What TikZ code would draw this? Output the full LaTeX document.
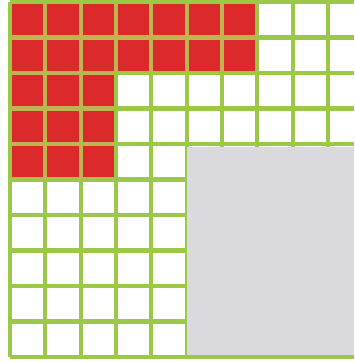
\documentclass[tikz,border=0pt]{standalone}
\definecolor{gridgreen}{RGB}{155,200,70}
\definecolor{gridtan}{RGB}{190,180,80}
\definecolor{cellred}{RGB}{220,42,44}
\definecolor{panelgrey}{RGB}{218,217,222}
\tikzset{gridline/.style={draw=gridgreen, line width=4.2pt}}
\begin{document}
\begin{tikzpicture}[x=1pt,y=-1pt]
\useasboundingbox (0,0) rectangle (354,362);
\fill[white] (0,0) rectangle (354,362);
% red L-shaped block
\fill[cellred] (10,2) -- (257.3,2) -- (257.3,73) -- (116,73) -- (116,179.5) -- (10,179.5) -- cycle;
% grid lines
\foreach \i in {0,...,9} {
  \pgfmathsetmacro{\xx}{10+35.33*\i}
  \draw[gridline] (\xx,2) -- (\xx,357);
}
\foreach \j in {0,...,10} {
  \pgfmathsetmacro{\yy}{2+35.5*\j}
  \draw[gridline] (10,\yy) -- (354,\yy);
}
% tan tint of the lines inside the red block
\begin{scope}
  \clip (12.1,4.1) -- (255.2,4.1) -- (255.2,70.9) -- (113.9,70.9) -- (113.9,177.4) -- (12.1,177.4) -- cycle;
  \foreach \i in {1,...,6} {
    \pgfmathsetmacro{\xx}{10+35.33*\i}
    \draw[gridline, draw=gridtan] (\xx,2) -- (\xx,180);
  }
  \foreach \j in {1,...,4} {
    \pgfmathsetmacro{\yy}{2+35.5*\j}
    \draw[gridline, draw=gridtan] (10,\yy) -- (258,\yy);
  }
\end{scope}
% grey panel
\fill[panelgrey] (187.4,147.1) rectangle (354,354.9);
\end{tikzpicture}
\end{document}
